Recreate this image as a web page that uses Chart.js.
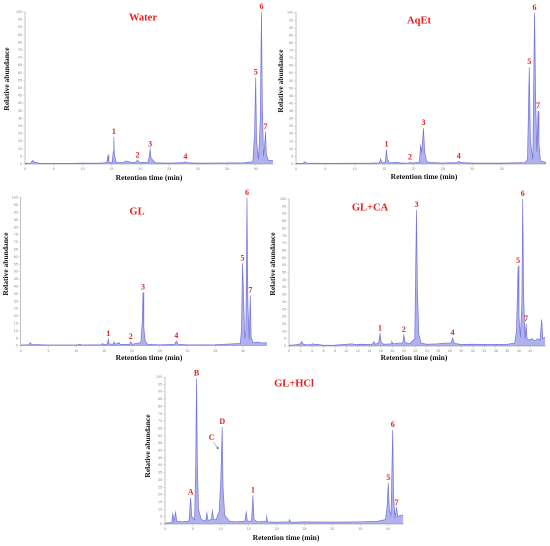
<!DOCTYPE html>
<html>
<head>
<meta charset="utf-8">
<script src="https://cdn.jsdelivr.net/npm/chart.js@4.4.0/dist/chart.umd.min.js"></script>
<style>
  body { margin: 0; background: #fff; }
  #wrap { position: relative; width: 550px; height: 546px; overflow: hidden; }
  canvas { position: absolute; }
</style>
</head>
<body>
<div id="wrap">
  <canvas id="cWater"></canvas>
  <canvas id="cAqEt"></canvas>
  <canvas id="cGL"></canvas>
  <canvas id="cGLCA"></canvas>
  <canvas id="cGLHCl"></canvas>
</div>
<script>
// chromatograms: [retention time (min), relative abundance]
const waterPoints = [[0,0.5],[1.0,0.6],[1.3,2.4],[1.5,1.6],[1.9,1.0],[2.5,0.5],[5,0.4],[8,0.4],[10,0.6],[12,0.5],[13.5,0.7],[14.2,1.0],[14.4,5.7],[14.55,1.2],[15.1,0.8],[15.3,8],[15.4,17.8],[15.5,6],[15.8,1.0],[17.0,0.9],[17.5,2],[18,1.6],[18.5,0.9],[19.2,1.2],[19.5,2.4],[19.8,1.2],[21.3,0.9],[21.55,5],[21.7,9.7],[21.85,4],[22.3,2],[22.6,0.8],[25,0.6],[27.5,0.9],[27.8,1.5],[28.1,0.8],[30,0.6],[35,0.7],[38,0.8],[39.5,1.5],[39.8,20],[40.0,57],[40.15,15],[40.5,3],[40.8,30],[41.0,100],[41.15,40],[41.35,5],[41.55,12],[41.7,21],[41.85,6],[42.2,2.5],[43,2.2]];
const aqetPoints = [[0,0.4],[1.2,0.5],[1.5,1.5],[1.8,0.6],[5,0.4],[10,0.5],[13,0.6],[14.2,0.8],[14.4,3.3],[14.6,0.9],[15.2,1.0],[15.4,9.5],[15.55,3],[15.9,0.8],[17.3,1.0],[18,0.6],[19.2,0.7],[19.4,1.1],[19.7,0.6],[21.0,1.2],[21.2,12],[21.4,8],[21.7,23.7],[21.9,8],[22.2,2],[22.6,1],[25,0.7],[27.4,0.9],[27.7,1.8],[28.0,1.0],[30,0.6],[35,0.6],[39,0.9],[39.4,3],[39.7,64],[39.9,15],[40.3,3],[40.6,100],[40.8,40],[41.0,8],[41.2,35],[41.35,14],[41.6,2],[42.6,1]];
const glPoints = [[0,0.5],[1.5,0.7],[1.7,2],[2.0,0.8],[5,0.5],[10,0.5],[10.7,0.9],[11,0.5],[14.5,0.7],[14.7,1.5],[14.9,0.7],[15.6,1.2],[15.75,4.5],[15.9,1.2],[16.6,1],[16.8,2.5],[17,1],[17.7,2],[17.9,0.8],[19.6,1],[19.8,2.7],[20.0,1],[21.6,2],[21.85,15],[22.0,36],[22.15,12],[22.4,3],[22.8,1],[25,0.6],[27.7,1],[28.0,3.2],[28.3,1],[30,0.6],[35,0.7],[39.5,1.5],[39.7,10],[39.9,55.6],[40.05,38],[40.3,5],[40.5,10],[40.7,100],[40.85,30],[41.1,4],[41.3,34],[41.45,6],[41.8,2],[42.7,2.5],[43.5,1.8],[44.3,2]];
const glcaPoints = [[0,0.5],[1,0.8],[2.0,1.5],[2.2,3],[2.5,1.2],[3.5,0.8],[4.2,1.5],[4.5,0.8],[4.8,1.2],[6,0.5],[8,0.6],[10,1.2],[11,1.5],[11.5,1],[12.5,1.2],[14,1],[14.6,1.5],[14.8,3],[15.0,1.2],[15.6,2],[15.85,8.5],[16.05,2.5],[16.5,1.2],[17.8,1.5],[17.9,3],[18.1,1.5],[19,2],[19.8,2],[20.0,7.5],[20.2,2.5],[21,1.5],[21.9,5],[22.05,50],[22.2,92.5],[22.35,40],[22.6,8],[23,2],[24,1.2],[25.8,1.5],[27,2],[28.2,2],[28.5,5.4],[28.8,1.8],[30,1],[31.8,1.2],[35,1],[38,1.2],[39.3,2],[39.6,10],[39.9,54.5],[40.05,20],[40.3,6],[40.55,30],[40.7,100],[40.85,35],[41.1,5],[41.3,15],[41.45,5],[41.8,4],[42.3,5],[42.8,3.5],[43.3,5],[43.7,4],[44.0,18],[44.2,5],[44.6,6]];
const glhclPoints = [[0,0.5],[1.2,1],[1.4,7],[1.6,2],[1.9,8],[2.1,2],[3,1.5],[4.3,2],[4.6,18],[4.8,5],[5.3,3],[5.5,40],[5.65,99],[5.8,40],[6.0,10],[6.5,3],[7.3,2],[7.5,7.5],[7.7,2.5],[8.3,3],[8.5,9],[8.7,3],[9.2,3],[9.4,6],[9.7,8],[10.0,30],[10.25,66],[10.4,25],[10.7,6],[11.5,2],[12.5,1.5],[14.3,2],[14.55,8],[14.75,2],[15.5,2],[15.75,19.5],[15.95,3],[16.5,1.5],[18.1,2],[18.2,5],[18.4,1.5],[20,1.2],[22.2,1.5],[22.3,3],[22.5,1.2],[25,1.5],[30,1.3],[35,1.5],[38,1.8],[39.5,3],[39.8,12],[40.0,28],[40.2,10],[40.5,6],[40.8,64],[40.95,20],[41.2,5],[41.5,11],[41.7,5],[42.2,6],[42.7,6]];

// peak labels: [label, time, apex abundance]
const waterPeaks = [['1',15.4,17.8],['2',19.5,2.4],['3',21.7,9.7],['4',27.8,1.5],['5',40.0,57],['6',41.0,100],['7',41.7,21]];
const aqetPeaks = [['1',15.4,9.5],['2',19.4,1.1],['3',21.7,23.7],['4',27.7,1.8],['5',39.7,64],['6',40.6,100],['7',41.2,35]];
const glPeaks = [['1',15.75,4.5],['2',19.8,2.7],['3',22.0,36],['4',28.0,3.2],['5',39.9,55.6],['6',40.7,100],['7',41.3,34]];
const glcaPeaks = [['1',15.85,8.5],['2',20.0,7.5],['3',22.2,92.5],['4',28.5,5.4],['5',39.9,54.5],['6',40.7,100],['7',41.3,15]];
const glhclPeaks = [['A',4.6,18],['B',5.65,99],['D',10.25,66],['1',15.75,19.5],['5',40.0,28],['6',40.8,64],['7',41.5,11]];
const glhclMarkers = [['C',9.43,51.7]];

const panelNames = ['Water', 'AqEt', 'GL', 'GL+CA', 'GL+HCl'];
const xMaxima = [43, 42.55, 44.3, 44.7, 42.7];
const xSteps = [5, 5, 5, 2, 5];
const yTitle = 'Relative abundance';
const xTitle = 'Retention time (min)';

const RED = '#e3201f';
const SERIF = '"Liberation Serif", "DejaVu Serif", serif';

const panels = [
  { id: 'cWater', points: waterPoints, peaks: waterPeaks, markers: [],
    canvas: [0, 0, 275, 184], plot: [25, 12, 273, 164],
    namePos: [143, 18], yTitlePos: [7, 79], xTitlePos: [149, 178] },
  { id: 'cAqEt', points: aqetPoints, peaks: aqetPeaks, markers: [],
    canvas: [275, 0, 275, 184], plot: [296, 12.7, 546, 164],
    namePos: [419, 21], yTitlePos: [281, 81], xTitlePos: [424, 177] },
  { id: 'cGL', points: glPoints, peaks: glPeaks, markers: [],
    canvas: [0, 184, 268, 182], plot: [20.7, 197.7, 267, 345.7],
    namePos: [137, 212], yTitlePos: [6, 264], xTitlePos: [149, 358] },
  { id: 'cGLCA', points: glcaPoints, peaks: glcaPeaks, markers: [],
    canvas: [266, 184, 284, 182], plot: [289, 199, 545.7, 346],
    namePos: [370, 208], yTitlePos: [273, 264], xTitlePos: [414, 358] },
  { id: 'cGLHCl', points: glhclPoints, peaks: glhclPeaks, markers: glhclMarkers,
    canvas: [140, 366, 275, 180], plot: [165, 377, 403.3, 524],
    namePos: [294, 384], yTitlePos: [148, 446], xTitlePos: [286, 538] }
];

const annotate = {
  id: 'annotate',
  afterDatasetsDraw(chart, args, opts) {
    const p = opts.panel;
    const ctx = chart.ctx;
    const xs = chart.scales.x, ys = chart.scales.y;
    const ox = p.canvas[0], oy = p.canvas[1];
    ctx.save();
    ctx.fillStyle = RED;
    ctx.textAlign = 'center';
    ctx.textBaseline = 'bottom';
    ctx.font = 'bold 8px ' + SERIF;
    p.peaks.forEach(pk => {
      ctx.fillText(pk[0], xs.getPixelForValue(pk[1]), ys.getPixelForValue(pk[2]) - 1);
    });
    p.markers.forEach(m => {
      const mx = xs.getPixelForValue(m[1]), my = ys.getPixelForValue(m[2]);
      ctx.strokeStyle = '#8aa0b8';
      ctx.lineWidth = 0.6;
      ctx.beginPath();
      ctx.moveTo(mx - 4, my - 6);
      ctx.lineTo(mx, my);
      ctx.stroke();
      ctx.fillStyle = '#2a7fd0';
      ctx.beginPath();
      ctx.arc(mx, my, 1.1, 0, Math.PI * 2);
      ctx.fill();
      ctx.fillStyle = RED;
      ctx.fillText(m[0], mx - 6, my - 6);
    });
    ctx.textBaseline = 'middle';
    ctx.font = 'bold 10.5px ' + SERIF;
    ctx.fillText(opts.name, p.namePos[0] - ox, p.namePos[1] - oy);
    ctx.fillStyle = '#111';
    ctx.font = 'bold 7.5px ' + SERIF;
    ctx.fillText(xTitle, p.xTitlePos[0] - ox, p.xTitlePos[1] - oy);
    ctx.translate(p.yTitlePos[0] - ox, p.yTitlePos[1] - oy);
    ctx.rotate(-Math.PI / 2);
    ctx.fillText(yTitle, 0, 0);
    ctx.restore();
  }
};

function snapTicks(step) {
  return function (scale) {
    scale.ticks = scale.ticks.filter(t => Math.abs(t.value / step - Math.round(t.value / step)) < 1e-6);
  };
}

panels.forEach((p, i) => {
  const el = document.getElementById(p.id);
  const [cl, ct, cw, chh] = p.canvas;
  el.width = cw; el.height = chh;
  el.style.left = cl + 'px'; el.style.top = ct + 'px';
  el.style.width = cw + 'px'; el.style.height = chh + 'px';
  const [pl, pt, pr, pb] = p.plot;
  const tickFont = { family: '"Liberation Sans", Arial, sans-serif', size: 3.6 };
  const chart = new Chart(el.getContext('2d'), {
    type: 'line',
    data: {
      datasets: [{
        data: p.points.map(d => ({ x: d[0], y: d[1] })),
        borderColor: 'rgba(105,105,215,0.9)',
        backgroundColor: 'rgba(125,125,225,0.6)',
        borderWidth: 0.7,
        pointRadius: 0,
        fill: 'origin',
        tension: 0
      }]
    },
    options: {
      responsive: false,
      animation: false,
      devicePixelRatio: 2,
      layout: { padding: { left: 0, top: pt - ct, right: cl + cw - pr, bottom: 0 } },
      plugins: {
        legend: { display: false },
        tooltip: { enabled: false },
        annotate: { panel: p, name: panelNames[i] }
      },
      scales: {
        x: {
          type: 'linear',
          min: 0,
          max: xMaxima[i],
          afterFit: s => { s.height = ct + chh - pb; },
          afterBuildTicks: snapTicks(xSteps[i]),
          ticks: { stepSize: xSteps[i], autoSkip: false, maxRotation: 0, font: tickFont, color: '#888', padding: 1 },
          grid: { drawOnChartArea: false, tickLength: 2, color: '#bbb', lineWidth: 0.5 },
          border: { color: '#aaa', width: 0.7 }
        },
        y: {
          min: 0,
          max: 100,
          afterFit: s => { s.width = pl - cl; },
          ticks: { stepSize: 5, autoSkip: false, font: tickFont, color: '#888', padding: 1 },
          grid: { drawOnChartArea: false, tickLength: 2, color: '#bbb', lineWidth: 0.5 },
          border: { color: '#aaa', width: 0.7 }
        }
      }
    },
    plugins: [annotate]
  });
  // nudge padding so the plot area lands on the reference rectangle
  const a = chart.chartArea;
  const pad = chart.options.layout.padding;
  pad.top -= (a.top - (pt - ct));
  pad.right -= ((cw - a.right) - (cl + cw - pr));
  chart.update();
});
</script>
</body>
</html>
